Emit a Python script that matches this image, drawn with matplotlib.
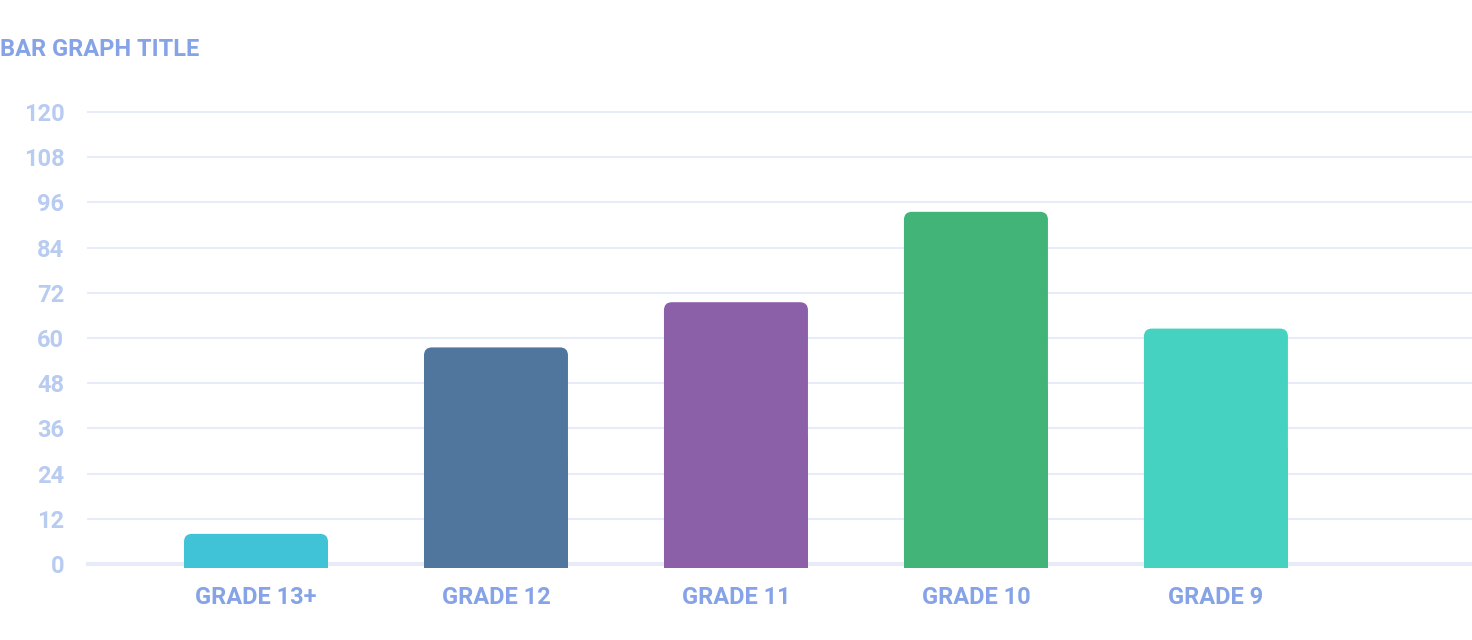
import matplotlib.pyplot as plt
from matplotlib.patches import FancyBboxPatch, Rectangle

plt.rcParams['font.family'] = ['Roboto', 'DejaVu Sans']
plt.rcParams['font.weight'] = 'bold'

grades = ['GRADE 13+', 'GRADE 12', 'GRADE 11', 'GRADE 10', 'GRADE 9']
values = [8, 57.5, 69.5, 93.5, 62.5]
colors = ['#40C3D6', '#51769E', '#8B60A9', '#42B477', '#46D2C0']
yticks = list(range(0, 121, 12))

fig = plt.figure(figsize=(14.72, 6.4), dpi=100)
ax = fig.add_axes([88 / 1472, 76 / 640, 1384 / 1472, 452 / 640])
ax.set_xlim(-0.7, 5.067)
ax.set_ylim(0, 120)

# px -> data scale
px_x = 1 / 240
px_y = 120 / 452
bar_w = 0.6
r = 8 * px_x
base = -4 * px_y

for ax_line in yticks:
    lw = 3 if ax_line == 0 else 1.5
    ax.axhline(ax_line, color='#E7ECF8', linewidth=lw, zorder=0, clip_on=False)

for i, (v, c) in enumerate(zip(values, colors)):
    x0 = i - bar_w / 2
    p = FancyBboxPatch((x0, base), bar_w, v - base,
                       boxstyle='round,pad=0,rounding_size=%f' % r,
                       mutation_aspect=px_y / px_x,
                       facecolor=c, edgecolor='none', clip_on=False, zorder=2)
    ax.add_patch(p)
    # square off the bottom corners
    ax.add_patch(Rectangle((x0, base), bar_w, (v - base) / 2, facecolor=c,
                           edgecolor='none', clip_on=False, zorder=2))

ax.set_xticks(range(len(grades)))
ax.set_xticklabels(grades, fontsize=17, color='#85A3E6', fontweight='bold')
ax.set_yticks(yticks)
ax.set_yticklabels([str(t) for t in yticks], fontsize=17, color='#B8CBF0',
                   fontweight='bold')
ax.tick_params(axis='both', length=0)
ax.tick_params(axis='x', pad=15.5)
ax.tick_params(axis='y', pad=17)
for s in ax.spines.values():
    s.set_visible(False)

fig.text(0, 1 - 49 / 640, 'BAR GRAPH TITLE', fontsize=17, color='#85A3E6',
         fontweight='bold', ha='left', va='center')

fig.savefig('out.png', dpi=100)
